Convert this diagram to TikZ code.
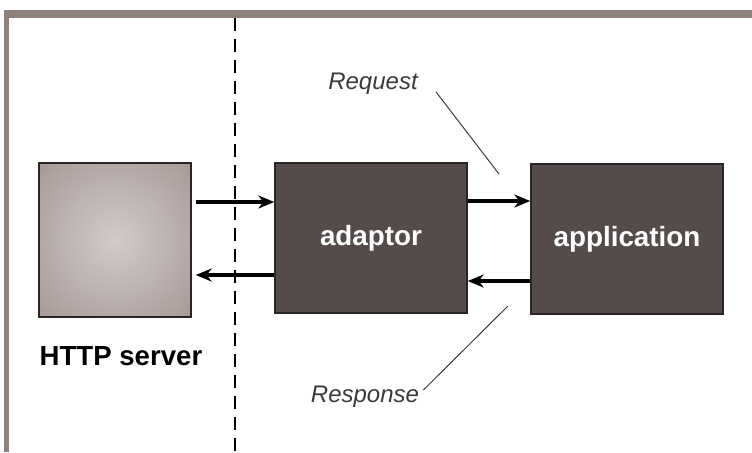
\documentclass[tikz,border=0pt]{standalone}
\usepackage{fontspec}
\setmainfont{Liberation Sans}
\usetikzlibrary{arrows.meta}
\definecolor{framegray}{HTML}{8E817C}
\definecolor{boxfill}{HTML}{544B4A}
\definecolor{boxline}{HTML}{2B2526}
\definecolor{httplight}{HTML}{D3CBC9}
\definecolor{httpdark}{HTML}{938581}
\definecolor{labelgray}{HTML}{3A3A3A}
\pgfdeclareradialshading{httpglow}{\pgfpoint{0bp}{0bp}}{color(0bp)=(httplight); color(50bp)=(httpdark); color(75bp)=(httpdark)}
\tikzset{
  unit/.style={draw=boxline, line width=0.7pt, fill=boxfill, text=white,
    minimum width=96pt, minimum height=75pt, inner sep=0pt,
    font=\fontsize{13.9}{16}\selectfont\bfseries},
  flow/.style={line width=1.7pt, -{Stealth[length=8pt,width=6.5pt]}},
  tag/.style={inner sep=0pt, text=labelgray, font=\fontsize{12}{14}\selectfont\itshape},
  leader/.style={line width=0.5pt, draw=labelgray}
}
\begin{document}
\begin{tikzpicture}[x=0.5pt,y=-0.5pt]
\useasboundingbox (0,0) rectangle (752,452);
% frame
\fill[framegray] (4,10) rectangle (752,18);
\fill[framegray] (4,10) rectangle (9,452);
% boundary
\coordinate (cuttop) at (235,18);
\coordinate (cutbot) at (235,452);
\draw[line width=0.85pt, dash pattern=on 6.5pt off 4pt] (cuttop) -- (cutbot);
% boxes
\node[draw=boxline, line width=0.7pt, shading=httpglow, minimum width=76pt,
  minimum height=77pt, inner sep=0pt] (http) at (115,240) {};
\node[unit] (adaptor) at (371,238) {adaptor};
\node[unit] (app) at (627,239) {application};
\node[inner sep=0pt, font=\fontsize{13.8}{16}\selectfont\bfseries] (httplabel) at (121,356) {HTTP server};
% arrows
\draw[flow, shorten <=2pt] ([yshift=19pt]http.east) -- ([yshift=19pt]http.east -| adaptor.west);
\draw[flow, shorten >=2pt] ([yshift=-18.5pt]adaptor.west) -- ([yshift=-18.5pt]adaptor.west -| http.east);
\draw[flow] ([yshift=18.5pt]adaptor.east) -- ([yshift=18.5pt]adaptor.east -| app.west);
\draw[flow] ([yshift=-21pt]app.west) -- ([yshift=-21pt]app.west -| adaptor.east);
% labels
\node[tag] (request) at (373,84) {Request};
\node[tag] (response) at (365,397) {Response};
\coordinate (reqtip) at (499,174);
\coordinate (resptip) at (508,306);
\draw[leader] ([shift={(9pt,-4pt)}]request.east) -- (reqtip);
\draw[leader] ([shift={(2pt,3.5pt)}]response.east) -- (resptip);
\end{tikzpicture}
\end{document}
